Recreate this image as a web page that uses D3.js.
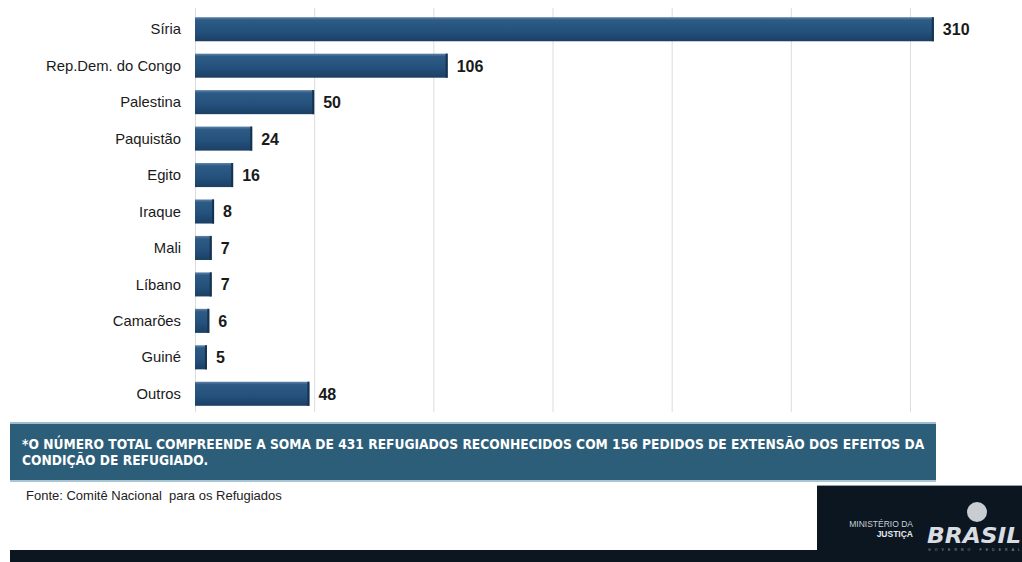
<!DOCTYPE html>
<html>
<head>
<meta charset="utf-8">
<script src="https://cdn.jsdelivr.net/npm/d3@7"></script>
<style>
  html, body { margin: 0; padding: 0; background: #fff; }
  svg { display: block; }
</style>
</head>
<body>
<svg id="chart" width="1022" height="562"></svg>
<script>
// Refugiados reconhecidos por país de origem
const categories = ["Síria", "Rep.Dem. do Congo", "Palestina", "Paquistão", "Egito",
                    "Iraque", "Mali", "Líbano", "Camarões", "Guiné", "Outros"];
const values = [310, 106, 50, 24, 16, 8, 7, 7, 6, 5, 48];
const ticks = [0, 50, 100, 150, 200, 250, 300];
const noteLines = [
  "*O NÚMERO TOTAL COMPREENDE A SOMA DE 431 REFUGIADOS RECONHECIDOS COM 156 PEDIDOS DE EXTENSÃO DOS EFEITOS DA",
  "CONDIÇÃO DE REFUGIADO."
];
const sourceText = "Fonte: Comitê Nacional  para os Refugiados";

const svg = d3.select("#chart");

const x = d3.scaleLinear().domain([0, 300]).range([195, 910]);
const y = d3.scaleBand().domain(categories).range([11, 412]).paddingInner(0.34).paddingOuter(0.17);

// bar gradient
const defs = svg.append("defs");
const g = defs.append("linearGradient").attr("id", "barGrad")
  .attr("x1", 0).attr("y1", 0).attr("x2", 0).attr("y2", 1);
g.append("stop").attr("offset", "0%").attr("stop-color", "#5f84a8");
g.append("stop").attr("offset", "12%").attr("stop-color", "#2e5a86");
g.append("stop").attr("offset", "60%").attr("stop-color", "#24507c");
g.append("stop").attr("offset", "100%").attr("stop-color", "#1b3f63");

// gridlines
svg.append("g").selectAll("line").data(ticks).join("line")
  .attr("x1", d => x(d) + 0.5).attr("x2", d => x(d) + 0.5)
  .attr("y1", 8).attr("y2", 412)
  .attr("stroke", "#dcdcdc").attr("stroke-width", 1);

// bars
const bars = svg.append("g");
bars.selectAll("rect.bar").data(values).join("rect")
  .attr("class", "bar")
  .attr("x", x(0))
  .attr("y", (d, i) => y(categories[i]))
  .attr("width", d => x(d) - x(0))
  .attr("height", y.bandwidth())
  .attr("fill", "url(#barGrad)");
// darker right edge
bars.selectAll("rect.edge").data(values).join("rect")
  .attr("class", "edge")
  .attr("x", d => x(d) - 2)
  .attr("y", (d, i) => y(categories[i]))
  .attr("width", 2)
  .attr("height", y.bandwidth())
  .attr("fill", "#17324f");

// category labels
svg.append("g").selectAll("text").data(categories).join("text")
  .attr("x", 181)
  .attr("y", d => y(d) + y.bandwidth() / 2)
  .attr("dy", "0.35em")
  .attr("text-anchor", "end")
  .attr("font-family", "Liberation Sans, Arial, sans-serif")
  .attr("font-size", 14.8)
  .attr("fill", "#1a1a1a")
  .text(d => d);

// value labels
svg.append("g").selectAll("text").data(values).join("text")
  .attr("x", d => x(d) + 9)
  .attr("y", (d, i) => y(categories[i]) + y.bandwidth() / 2)
  .attr("dy", "0.37em")
  .attr("font-family", "Liberation Sans, Arial, sans-serif")
  .attr("font-weight", "bold")
  .attr("font-size", 16)
  .attr("fill", "#1a1a1a")
  .text(d => d);

// note banner
svg.append("rect").attr("x", 10).attr("y", 422).attr("width", 926).attr("height", 60)
  .attr("fill", "#2d5e79");
svg.append("rect").attr("x", 10).attr("y", 422).attr("width", 926).attr("height", 2)
  .attr("fill", "#9dbccd");
svg.append("rect").attr("x", 10).attr("y", 480).attr("width", 926).attr("height", 2)
  .attr("fill", "#a9c6d4");

// two-line note, stretched to the banner width
const base = 448.5, lineStep = 17;
const note = svg.append("text")
  .attr("font-family", "DejaVu Sans Condensed, DejaVu Sans, sans-serif")
  .attr("font-weight", "bold")
  .attr("font-size", 14)
  .attr("fill", "#ffffff");
const spans = note.selectAll("tspan").data(noteLines).join("tspan")
  .attr("x", 0)
  .attr("y", (d, i) => i * lineStep)
  .text(d => d);
const natural = spans.nodes()[0].getComputedTextLength();
const sx = 903 / natural;
note.attr("transform", `translate(22,${base}) scale(${sx},1)`);

// source
svg.append("text").attr("x", 26).attr("y", 500)
  .attr("font-family", "Liberation Sans, Arial, sans-serif")
  .attr("font-size", 13).attr("fill", "#222")
  .attr("xml:space", "preserve")
  .text(sourceText);

// footer
svg.append("rect").attr("x", 10).attr("y", 550).attr("width", 1012).attr("height", 12)
  .attr("fill", "#0b1621");
svg.append("rect").attr("x", 817).attr("y", 486).attr("width", 205).attr("height", 76)
  .attr("fill", "#0b1621");
svg.append("line").attr("x1", 817).attr("x2", 1022).attr("y1", 485.5).attr("y2", 485.5)
  .attr("stroke", "#8fa3b3").attr("stroke-width", 1);

svg.append("text").attr("x", 913).attr("y", 527).attr("text-anchor", "end")
  .attr("font-family", "Liberation Sans, Arial, sans-serif")
  .attr("font-size", 8.5).attr("fill", "#c9d0d6").text("MINISTÉRIO DA");
svg.append("text").attr("x", 913).attr("y", 537).attr("text-anchor", "end")
  .attr("font-family", "Liberation Sans, Arial, sans-serif").attr("font-weight", "bold")
  .attr("font-size", 8.5).attr("fill", "#e5e9ec").text("JUSTIÇA");

svg.append("circle").attr("cx", 977).attr("cy", 512).attr("r", 10).attr("fill", "#c8cdd2");
svg.append("text").attr("x", 927).attr("y", 543)
  .attr("font-family", "DejaVu Sans, sans-serif").attr("font-weight", "bold")
  .attr("font-style", "italic").attr("font-size", 22)
  .attr("textLength", 94).attr("lengthAdjust", "spacingAndGlyphs")
  .attr("fill", "#d9dde1").text("BRASIL");
svg.append("text").attr("x", 928).attr("y", 551)
  .attr("font-family", "Liberation Sans, Arial, sans-serif")
  .attr("font-size", 3.5).attr("textLength", 92).attr("fill", "#9aa3ab")
  .text("GOVERNO FEDERAL");
</script>
</body>
</html>
